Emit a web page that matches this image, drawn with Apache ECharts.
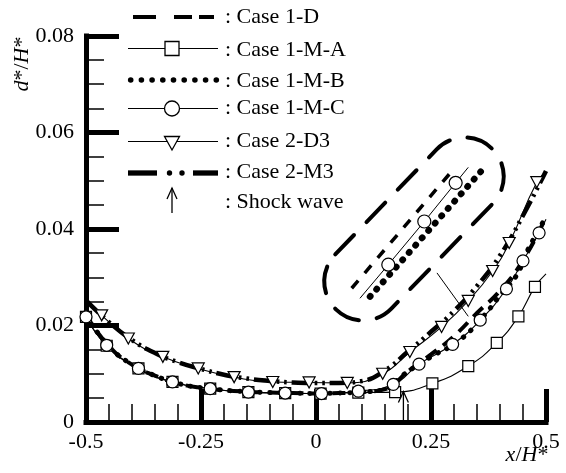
<!DOCTYPE html>
<html><head><meta charset="utf-8">
<script src="https://cdn.jsdelivr.net/npm/echarts@6/dist/echarts.min.js"></script>
<style>html,body{margin:0;padding:0;background:#fff}#c{width:566px;height:473px}</style>
</head><body><div id="c"></div>
<script>
// ---------- tick labels / names ----------
const xTickLabels = ['-0.5', '-0.25', '0', '0.25', '0.5'];
const yTickLabels = ['0', '0.02', '0.04', '0.06', '0.08'];
const legendNames = [': Case 1-D', ': Case 1-M-A', ': Case 1-M-B', ': Case 1-M-C', ': Case 2-D3', ': Case 2-M3', ': Shock wave'];

// ---------- series values [x/H*, d*/H*] ----------
const case1D = [[-0.5,0.0221],[-0.45,0.0157],[-0.4,0.0119],[-0.35,0.0096],[-0.3,0.0080],[-0.25,0.0071],[-0.2,0.0066],[-0.15,0.0063],[-0.1,0.0061],[-0.05,0.0060],[0,0.0059],[0.05,0.0060],[0.1,0.0062],[0.15,0.0068],[0.2,0.0105],[0.25,0.0140],[0.3,0.0178],[0.35,0.0226],[0.4,0.0272],[0.45,0.0335],[0.5,0.0425]];
const case1MA = [[-0.5,0.0218],[-0.455,0.0158],[-0.386,0.0111],[-0.312,0.0083],[-0.23,0.0069],[-0.147,0.0062],[-0.067,0.0060],[0.01,0.0059],[0.092,0.0061],[0.172,0.0062],[0.253,0.0080],[0.331,0.0116],[0.393,0.0164],[0.44,0.0219],[0.476,0.0280],[0.5,0.0307]];
const case1MB = [[-0.5,0.0220],[-0.45,0.0157],[-0.4,0.0119],[-0.35,0.0096],[-0.3,0.0080],[-0.25,0.0071],[-0.2,0.0066],[-0.15,0.0063],[-0.1,0.0061],[-0.05,0.0060],[0,0.0059],[0.05,0.0060],[0.1,0.0062],[0.15,0.0068],[0.19,0.0098],[0.25,0.0135],[0.31,0.0168],[0.36,0.0215],[0.4,0.0262],[0.436,0.0304],[0.458,0.0352],[0.5,0.0425]];
const case1MC = [[-0.5,0.0218],[-0.455,0.0159],[-0.386,0.0111],[-0.312,0.0083],[-0.23,0.0069],[-0.147,0.0062],[-0.067,0.0060],[0.012,0.0059],[0.092,0.0064],[0.168,0.0078],[0.224,0.0120],[0.297,0.0161],[0.357,0.0211],[0.414,0.0276],[0.45,0.0334],[0.485,0.0392],[0.5,0.0420]];
const case2D3 = [[-0.5,0.0249],[-0.466,0.0221],[-0.408,0.0173],[-0.333,0.0135],[-0.256,0.0111],[-0.178,0.0093],[-0.094,0.0083],[-0.015,0.0082],[0.068,0.0081],[0.145,0.0100],[0.204,0.0145],[0.273,0.0197],[0.331,0.0251],[0.384,0.0313],[0.42,0.0371],[0.48,0.0497],[0.5,0.0517]];
const case2M3 = [[-0.5,0.0252],[-0.45,0.0207],[-0.4,0.0170],[-0.35,0.0143],[-0.3,0.0124],[-0.25,0.0110],[-0.2,0.0098],[-0.15,0.0090],[-0.1,0.0085],[-0.05,0.0082],[0,0.0081],[0.05,0.0081],[0.1,0.0085],[0.15,0.0107],[0.2,0.0146],[0.25,0.0187],[0.3,0.0230],[0.35,0.0282],[0.4,0.0345],[0.45,0.0428],[0.5,0.0520]];
const shockWave = [[0.19, 0.0063]];
const leaderLine = [[0.263, 0.0309], [0.331, 0.0219]];

// ---------- magnified inset (own hidden 0..1 axes) ----------
const insetDashed = [[0.078,0.145],[0.762,0.945]];
const insetThin = [[0.133,0.078],[0.322,0.302],[0.562,0.59],[0.771,0.848],[0.855,0.951]];
const insetDotted = [[0.2,0.089],[0.938,0.922]];

const FF = 'Liberation Serif';
const FS = 22;
const K = '#000';
const hollow = {color:'#fff', borderColor:K, borderWidth:1.2};

const chart = echarts.init(document.getElementById('c'), null, {renderer:'canvas'});

function legendGraphics() {
  const g = [];
  const ln = (x1,y1,x2,y2,w) => g.push({type:'line', shape:{x1,y1,x2,y2}, style:{stroke:K, lineWidth:w}, z:50});
  ln(133,17,156,17,4); ln(174,17,192,17,4); ln(199,17,214,17,4);
  ln(128,48.5,218,48.5,1.2);
  g.push({type:'rect', shape:{x:165,y:41.5,width:14,height:14}, style:{fill:'#fff', stroke:K, lineWidth:1.3}, z:51});
  for (let i = 0; i < 9; i++) g.push({type:'circle', shape:{cx:130.7 + i*10.7, cy:80, r:2.8}, style:{fill:K}, z:50});
  ln(128,108.5,218,108.5,1.2);
  g.push({type:'circle', shape:{cx:172, cy:108.5, r:7.5}, style:{fill:'#fff', stroke:K, lineWidth:1.3}, z:51});
  ln(128,141.5,218,141.5,1.2);
  g.push({type:'polygon', shape:{points:[[164.5,136.5],[179.5,136.5],[172,150]]}, style:{fill:'#fff', stroke:K, lineWidth:1.3}, z:51});
  ln(128,173,157,173,5.3); ln(193,173,218,173,5.3);
  g.push({type:'circle', shape:{cx:169.5, cy:173, r:2.7}, style:{fill:K}, z:50});
  g.push({type:'circle', shape:{cx:182, cy:173, r:2.7}, style:{fill:K}, z:50});
  ln(172,213,172,188,1.3);
  g.push({type:'polyline', shape:{points:[[167,199],[172,188],[177,199]]}, style:{stroke:K, fill:null, lineWidth:1.3}, z:50});
  const ys = [17, 50, 81, 108, 141.5, 172.5, 202];
  legendNames.forEach((t, i) => g.push({type:'text', x:225, y:ys[i], style:{text:t, fontFamily:FF, fontSize:FS, fill:K, align:'left', verticalAlign:'middle', textAlign:'left', textVerticalAlign:'middle'}, z:50}));
  return g;
}

const graphics = legendGraphics().concat([
  {type:'text', x:22, y:64, rotation:Math.PI/2,
   style:{text:'{i|d}*/{i|H}*', rich:{i:{fontStyle:'italic', fontFamily:FF, fontSize:FS}}, fontFamily:FF, fontSize:FS, fill:K, align:'center', verticalAlign:'middle', textAlign:'center', textVerticalAlign:'middle'}},
  {type:'text', x:527, y:455,
   style:{text:'{i|x}/{i|H}*', rich:{i:{fontStyle:'italic', fontFamily:FF, fontSize:FS}}, fontFamily:FF, fontSize:FS, fill:K, align:'center', verticalAlign:'middle', textAlign:'center', textVerticalAlign:'middle'}},
  {type:'rect', x:414, y:229, rotation:46*Math.PI/180,
   shape:{x:-112, y:-39, width:224, height:78, r:39},
   style:{fill:null, stroke:K, lineWidth:4, lineDash:[27,18], lineCap:'round'}, z:40}
]);

const option = {
  animation:false,
  backgroundColor:'#fff',
  grid:[
    {left:86, right:20, top:36, bottom:51},
    {left:340, top:160, width:150, height:150}
  ],
  xAxis:[
    {type:'value', gridIndex:0, min:-0.5, max:0.5, interval:0.25,
     axisLine:{show:true, onZero:false, lineStyle:{color:K, width:5, cap:'square'}},
     axisTick:{show:true, inside:true, length:33, lineStyle:{color:K, width:5}},
     minorTick:{show:true, splitNumber:5, length:18, lineStyle:{color:K, width:1.5}},
     splitLine:{show:false}, minorSplitLine:{show:false},
     axisLabel:{color:K, fontFamily:FF, fontSize:FS, margin:9, formatter:(v,i)=>xTickLabels[i]}},
    {type:'value', gridIndex:1, min:0, max:1, show:false}
  ],
  yAxis:[
    {type:'value', gridIndex:0, min:0, max:0.08, interval:0.02,
     axisLine:{show:true, onZero:false, lineStyle:{color:K, width:5, cap:'square'}},
     axisTick:{show:true, inside:true, length:33, lineStyle:{color:K, width:5}},
     minorTick:{show:true, splitNumber:4, length:18, lineStyle:{color:K, width:1.5}},
     splitLine:{show:false}, minorSplitLine:{show:false},
     axisLabel:{color:K, fontFamily:FF, fontSize:FS, margin:12, formatter:(v,i)=>yTickLabels[i]}},
    {type:'value', gridIndex:1, min:0, max:1, show:false}
  ],
  graphic:{elements:graphics},
  series:[
    {name:'Case 2-M3', type:'line', data:case2M3, symbol:'none', smooth:0.5,
     lineStyle:{color:K, width:4.5, type:[18,5,2.5,5,2.5,5]}, z:2},
    {name:'Case 1-D', type:'line', data:case1D, symbol:'none', smooth:0.5,
     lineStyle:{color:K, width:4, type:[13,8]}, z:2},
    {name:'Case 1-M-B', type:'line', data:case1MB, symbol:'none', smooth:0.5,
     lineStyle:{color:K, width:5, type:[0.5,9.5], cap:'round'}, z:2},
    {name:'Case 2-D3', type:'line', data:case2D3, smooth:0.5, showAllSymbol:true,
     symbol:(v,p)=>(p.dataIndex===0||p.dataIndex===case2D3.length-1)?'none':'triangle',
     symbolSize:[12,11], symbolRotate:180, itemStyle:hollow, lineStyle:{color:K, width:1.1}, z:3},
    {name:'Case 1-M-A', type:'line', data:case1MA, smooth:0.5, showAllSymbol:true,
     symbol:(v,p)=>(p.dataIndex===case1MA.length-1)?'none':'rect',
     symbolSize:11, itemStyle:hollow, lineStyle:{color:K, width:1.1}, z:3},
    {name:'Case 1-M-C', type:'line', data:case1MC, smooth:0.5, showAllSymbol:true,
     symbol:(v,p)=>(p.dataIndex===case1MC.length-1)?'none':'circle',
     symbolSize:12, itemStyle:hollow, lineStyle:{color:K, width:1.1}, z:4},
    {name:'leader', type:'line', data:leaderLine, symbol:'none', lineStyle:{color:K, width:1}, z:5},
    {name:'Shock wave', type:'custom', data:shockWave, z:6,
     renderItem:(params, api)=>{
       const x = api.value(0), y = api.value(1);
       const b = api.coord([x, 0]); const t = api.coord([x, y]);
       return {type:'group', children:[
         {type:'line', shape:{x1:t[0], y1:b[1]-2, x2:t[0], y2:t[1]}, style:{stroke:K, lineWidth:1.3}},
         {type:'polyline', shape:{points:[[t[0]-5, t[1]+11],[t[0], t[1]],[t[0]+5, t[1]+11]]}, style:{stroke:K, fill:null, lineWidth:1.3}}
       ]};
     }},
    {name:'inset 1-D', type:'line', xAxisIndex:1, yAxisIndex:1, data:insetDashed, symbol:'none',
     lineStyle:{color:K, width:3.5, type:[10,10]}},
    {name:'inset 1-M-C', type:'line', xAxisIndex:1, yAxisIndex:1, data:insetThin, showAllSymbol:true,
     symbol:(v,p)=>(p.dataIndex===0||p.dataIndex===insetThin.length-1)?'none':'circle',
     symbolSize:13, itemStyle:hollow, lineStyle:{color:K, width:1}},
    {name:'inset 1-M-B', type:'line', xAxisIndex:1, yAxisIndex:1, data:insetDotted, symbol:'none',
     lineStyle:{color:K, width:6.5, type:[0.5,9.3], cap:'round'}}
  ]
};
chart.setOption(option);
</script>
</body></html>
